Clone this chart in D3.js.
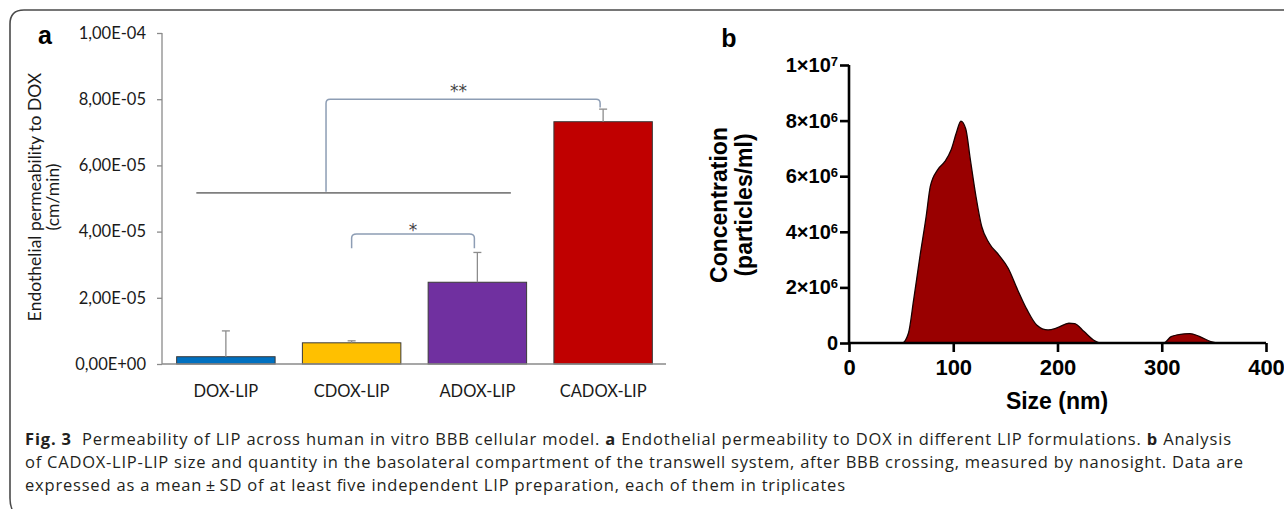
<!DOCTYPE html>
<html>
<head>
<meta charset="utf-8">
<script src="https://cdn.jsdelivr.net/npm/d3@7"></script>
<style>
  body { margin: 0; background: #fff; }
  svg { display: block; }
</style>
</head>
<body>
<div id="chart"></div>
<script>
// Panel a data: permeability to DOX per formulation
var categories = ["DOX-LIP", "CDOX-LIP", "ADOX-LIP", "CADOX-LIP"];
var permeability = [2.2e-6, 6.4e-6, 2.47e-5, 7.32e-5];
var permeabilitySD = [7.8e-6, 0.6e-6, 0.9e-5, 0.38e-5];
var barColors = ["#0070C0", "#FFC000", "#7030A0", "#C00000"];
var yTicksA = [0, 2e-5, 4e-5, 6e-5, 8e-5, 1e-4];
var yTickLabelsA = ["0,00E+00", "2,00E-05", "4,00E-05", "6,00E-05", "8,00E-05", "1,00E-04"];

// Panel b data: size distribution (nm vs particles/ml)
var sizeNm = [0, 51, 57, 62, 68, 74, 78, 85, 92, 98, 103, 107.3, 112, 116.4, 121.8, 127.3, 134.5,
  143.6, 152.7, 161.8, 170.9, 180, 190.9, 200, 210.9, 216.4, 225.5, 234.5, 242, 302, 309, 321.8, 327,
  336, 347, 355, 400];
var concentration = [0, 0, 0.35e6, 1.55e6, 3.1e6, 4.55e6, 5.63e6, 6.23e6, 6.53e6, 6.95e6, 7.56e6, 7.98e6,
  7.7e6, 6.6e6, 5.27e6, 4.19e6, 3.59e6, 3.17e6, 2.69e6, 1.91e6, 1.19e6, 0.65e6, 0.47e6, 0.55e6, 0.71e6,
  0.7e6, 0.41e6, 0.11e6, 0, 0, 0.23e6, 0.33e6, 0.34e6, 0.24e6, 0.05e6, 0, 0];
var xTicksB = [0, 100, 200, 300, 400];
var yTicksB = [0, 2e6, 4e6, 6e6, 8e6, 1e7];

var svgWidth = 1284;
var svgHeight = 509;

var svg = d3.select("#chart")
  .append("svg")
  .attr("width", svgWidth)
  .attr("height", svgHeight);

// Figure frame (rounded top-left corner)
svg.append("path")
  .attr("d", "M12,509 Q10,505 10,498 L10,24 Q10,10 24,10 L1284,10")
  .attr("fill", "none")
  .attr("stroke", "#4a4a4a")
  .attr("stroke-width", 1.6);

// ---------- Panel a ----------
var fontA = "Lato, 'Open Sans', sans-serif";

var yA = d3.scaleLinear().domain([0, 1e-4]).range([364, 33]);
var xA = d3.scaleBand().domain(categories).range([163, 666]).paddingInner(0.217).paddingOuter(0.1085);

var gA = svg.append("g");

var leftAxisA = d3.axisLeft(yA)
  .tickValues(yTicksA)
  .tickFormat(function(d, i) { return yTickLabelsA[i]; })
  .tickSize(5)
  .tickPadding(11);

var yAxisA = gA.append("g")
  .attr("transform", "translate(162,0)")
  .call(leftAxisA);
yAxisA.select(".domain").attr("stroke", "#8a8a8a").attr("stroke-width", 1.3).attr("d", "M0,33V364");
yAxisA.selectAll(".tick line").attr("stroke", "#8a8a8a").attr("stroke-width", 1.3);
yAxisA.selectAll(".tick text").attr("font-family", fontA).attr("font-size", 16.5).attr("fill", "#1a1a1a");

// Bars
gA.selectAll("rect.bar")
  .data(categories)
  .enter()
  .append("rect")
  .attr("class", "bar")
  .attr("x", function(d) { return xA(d); })
  .attr("width", xA.bandwidth())
  .attr("y", function(d, i) { return yA(permeability[i]); })
  .attr("height", function(d, i) { return yA(0) - yA(permeability[i]); })
  .attr("fill", function(d, i) { return barColors[i]; })
  .attr("stroke", "#3a3a3a")
  .attr("stroke-width", 1);

// Error bars (upper only)
var errG = gA.selectAll("g.err")
  .data(categories)
  .enter()
  .append("g")
  .attr("class", "err");
errG.append("line")
  .attr("x1", function(d) { return xA(d) + xA.bandwidth() / 2; })
  .attr("x2", function(d) { return xA(d) + xA.bandwidth() / 2; })
  .attr("y1", function(d, i) { return yA(permeability[i]); })
  .attr("y2", function(d, i) { return yA(permeability[i] + permeabilitySD[i]); })
  .attr("stroke", "#8c8c8c")
  .attr("stroke-width", 1.3);
errG.append("line")
  .attr("x1", function(d) { return xA(d) + xA.bandwidth() / 2 - 4; })
  .attr("x2", function(d) { return xA(d) + xA.bandwidth() / 2 + 4; })
  .attr("y1", function(d, i) { return yA(permeability[i] + permeabilitySD[i]); })
  .attr("y2", function(d, i) { return yA(permeability[i] + permeabilitySD[i]); })
  .attr("stroke", "#8c8c8c")
  .attr("stroke-width", 1.3);

// X axis
var bottomAxisA = d3.axisBottom(xA).tickSize(0).tickPadding(21);
var xAxisA = gA.append("g")
  .attr("transform", "translate(0,364)")
  .call(bottomAxisA);
xAxisA.select(".domain").attr("stroke", "#8a8a8a").attr("stroke-width", 1.3).attr("d", "M162,0H666");
xAxisA.selectAll(".tick text").attr("font-family", fontA).attr("font-size", 16.5).attr("fill", "#1a1a1a");

// Significance annotations
var cx = function(c) { return xA(c) + xA.bandwidth() / 2; };
var bw = xA.bandwidth();
var groupY = yA(5.17e-5);
var lineL = xA("DOX-LIP") + bw * 0.2;
var lineR = xA("ADOX-LIP") + bw * 0.84;
var stemX = xA("CDOX-LIP") + bw * 0.24;
var topY = yA(8.0e-5);

gA.append("line")
  .attr("x1", lineL).attr("x2", lineR)
  .attr("y1", groupY).attr("y2", groupY)
  .attr("stroke", "#7f7f7f")
  .attr("stroke-width", 1.6);

gA.append("path")
  .attr("d", "M" + stemX + "," + (groupY - 1) + " L" + stemX + "," + (topY + 4) +
    " Q" + stemX + "," + topY + " " + (stemX + 4) + "," + topY +
    " L" + (cx("CADOX-LIP") - 7) + "," + topY +
    " Q" + (cx("CADOX-LIP") - 3) + "," + topY + " " + (cx("CADOX-LIP") - 3) + "," + (topY + 4) +
    " L" + (cx("CADOX-LIP") - 3) + "," + yA(7.75e-5))
  .attr("fill", "none")
  .attr("stroke", "#8d9db4")
  .attr("stroke-width", 1.5);

gA.append("text")
  .attr("x", (stemX + cx("CADOX-LIP")) / 2 - 6)
  .attr("y", yA(8.33e-5) + 9)
  .attr("text-anchor", "middle")
  .attr("font-family", "'DejaVu Sans', sans-serif")
  .attr("font-size", 17)
  .attr("fill", "#444")
  .text("**");

var sTop = yA(3.93e-5);
var sBot = yA(3.5e-5);
var sL = cx("CDOX-LIP");
var sR = cx("ADOX-LIP") - 3;
gA.append("path")
  .attr("d", "M" + sL + "," + sBot + " L" + sL + "," + (sTop + 4) +
    " Q" + sL + "," + sTop + " " + (sL + 5) + "," + sTop +
    " L" + (sR - 5) + "," + sTop +
    " Q" + sR + "," + sTop + " " + sR + "," + (sTop + 4) +
    " L" + sR + "," + sBot)
  .attr("fill", "none")
  .attr("stroke", "#8d9db4")
  .attr("stroke-width", 1.5);

gA.append("text")
  .attr("x", (sL + sR) / 2)
  .attr("y", yA(4.14e-5) + 9)
  .attr("text-anchor", "middle")
  .attr("font-family", "'DejaVu Sans', sans-serif")
  .attr("font-size", 17)
  .attr("fill", "#444")
  .text("*");

// Axis title (two lines, rotated)
var titleA = gA.append("text")
  .attr("transform", "translate(41,197) rotate(-90)")
  .attr("text-anchor", "middle")
  .attr("font-family", fontA)
  .attr("font-size", 17.5)
  .attr("fill", "#1a1a1a");
titleA.append("tspan").attr("x", 0).attr("y", 0).text("Endothelial permeability to DOX");
titleA.append("tspan").attr("x", 0).attr("y", 18).text("(cm/min)");

// Panel letter
svg.append("text")
  .attr("x", 45).attr("y", 44)
  .attr("text-anchor", "middle")
  .attr("font-family", "'Liberation Sans', Arial, sans-serif")
  .attr("font-size", 25)
  .attr("font-weight", "bold")
  .text("a");

// ---------- Panel b ----------
var fontB = "'Liberation Sans', Arial, sans-serif";
var xB = d3.scaleLinear().domain([0, 400]).range([849, 1266]);
var yB = d3.scaleLinear().domain([0, 1e7]).range([343, 65]);

var gB = svg.append("g");

var points = sizeNm.map(function(s, i) { return { s: s, c: concentration[i] }; });

var area = d3.area()
  .x(function(d) { return xB(d.s); })
  .y0(yB(0))
  .y1(function(d) { return yB(d.c); })
  .curve(d3.curveMonotoneX);

var line = d3.line()
  .x(function(d) { return xB(d.s); })
  .y(function(d) { return yB(d.c); })
  .curve(d3.curveMonotoneX);

gB.append("path")
  .datum(points)
  .attr("d", area)
  .attr("fill", "#990000");

gB.append("path")
  .datum(points)
  .attr("d", line)
  .attr("fill", "none")
  .attr("stroke", "#1a0000")
  .attr("stroke-width", 1.3);

var leftAxisB = d3.axisLeft(yB)
  .tickValues(yTicksB)
  .tickSize(9)
  .tickPadding(2)
  .tickFormat(function(d) { return d === 0 ? "0" : ""; });

var yAxisB = gB.append("g")
  .attr("transform", "translate(849,0)")
  .call(leftAxisB);
yAxisB.select(".domain").attr("stroke", "#000").attr("stroke-width", 2.6).attr("d", "M0,65V343");
yAxisB.selectAll(".tick line").attr("stroke", "#000").attr("stroke-width", 2.6);
yAxisB.selectAll(".tick text")
  .attr("font-family", fontB)
  .attr("font-size", 20)
  .attr("font-weight", "bold")
  .attr("fill", "#000")
  .each(function(d) {
    if (d === 0) return;
    var exp = Math.floor(Math.log10(d));
    var mant = Math.round(d / Math.pow(10, exp));
    var t = d3.select(this).text(null);
    t.append("tspan").text(mant + "×10");
    t.append("tspan").attr("dy", "-0.45em").attr("font-size", 13).text(exp);
  });

var bottomAxisB = d3.axisBottom(xB)
  .tickValues(xTicksB)
  .tickSize(9)
  .tickPadding(7);

var xAxisB = gB.append("g")
  .attr("transform", "translate(0,343)")
  .call(bottomAxisB);
xAxisB.select(".domain").attr("stroke", "#000").attr("stroke-width", 2.6).attr("d", "M849,0H1266");
xAxisB.selectAll(".tick line").attr("stroke", "#000").attr("stroke-width", 2.6);
xAxisB.selectAll(".tick text")
  .attr("font-family", fontB)
  .attr("font-size", 22)
  .attr("font-weight", "bold")
  .attr("fill", "#000");

gB.append("text")
  .attr("x", 1057).attr("y", 409)
  .attr("text-anchor", "middle")
  .attr("font-family", fontB)
  .attr("font-size", 23)
  .attr("font-weight", "bold")
  .text("Size (nm)");

var titleB = gB.append("text")
  .attr("transform", "translate(727,205) rotate(-90)")
  .attr("text-anchor", "middle")
  .attr("font-family", fontB)
  .attr("font-size", 23)
  .attr("font-weight", "bold");
titleB.append("tspan").attr("x", 0).attr("y", 0).text("Concentration");
titleB.append("tspan").attr("x", 0).attr("y", 25).text("(particles/ml)");

svg.append("text")
  .attr("x", 729).attr("y", 47)
  .attr("text-anchor", "middle")
  .attr("font-family", fontB)
  .attr("font-size", 25)
  .attr("font-weight", "bold")
  .text("b");

// ---------- Caption ----------
var capFont = "'Open Sans', sans-serif";
var captionLines = [
  { y: 445, len: 1206, parts: [["Fig. 3", true], ["  Permeability of LIP across human in vitro BBB cellular model. ", false], ["a", true],
    [" Endothelial permeability to DOX in different LIP formulations. ", false], ["b", true], [" Analysis", false]] },
  { y: 468, len: 1218, parts: [["of CADOX-LIP-LIP size and quantity in the basolateral compartment of the transwell system, after BBB crossing, measured by nanosight. Data are", false]] },
  { y: 491, len: 820, parts: [["expressed as a mean\u2009\u00b1\u2009SD of at least five independent LIP preparation, each of them in triplicates", false]] }
];

captionLines.forEach(function(l) {
  var t = svg.append("text")
    .attr("x", 25).attr("y", l.y)
    .attr("font-family", capFont)
    .attr("font-size", 16.5)
    .attr("fill", "#231f20")
    .attr("xml:space", "preserve")
    .style("white-space", "pre")
    .attr("textLength", l.len)
    .attr("lengthAdjust", "spacing");
  l.parts.forEach(function(p) {
    t.append("tspan").attr("font-weight", p[1] ? "bold" : "normal").text(p[0]);
  });
});
</script>
</body>
</html>
